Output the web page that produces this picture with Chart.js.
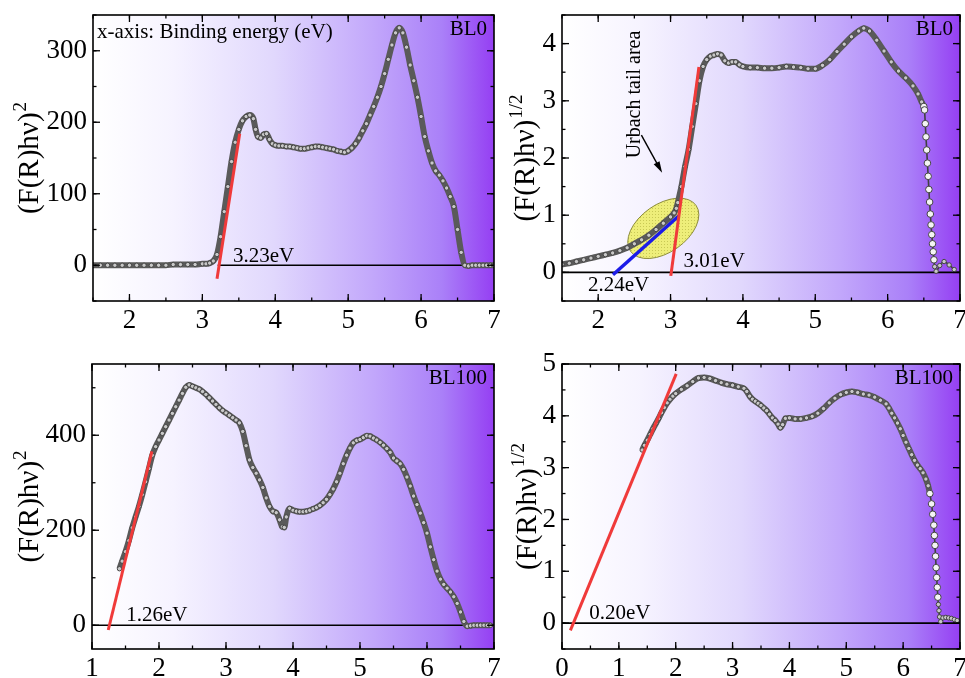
<!DOCTYPE html>
<html>
<head>
<meta charset="utf-8">
<title>Tauc plots BL0 / BL100</title>
<script src="https://cdn.jsdelivr.net/npm/chart.js@4.4.1/dist/chart.umd.min.js"></script>
<style>
  body { margin: 0; background: #fff; }
  #wrap { position: relative; width: 965px; height: 678px; overflow: hidden; }
  #wrap canvas { position: absolute; }
</style>
</head>
<body>
<div id="wrap">
  <canvas id="c1" width="530" height="340" style="left:0px;top:0px"></canvas>
  <canvas id="c2" width="485" height="340" style="left:480px;top:0px"></canvas>
  <canvas id="c3" width="530" height="338" style="left:0px;top:340px"></canvas>
  <canvas id="c4" width="485" height="338" style="left:480px;top:340px"></canvas>
</div>
<script>
// ---- data -------------------------------------------------------------

// BL0, (F(R)hv)^2 vs binding energy
var bl0SqE = [1.5,1.6,1.7,1.8,1.9,2.0,2.1,2.2,2.3,2.4,
  2.5,2.6,2.7,2.8,2.9,3.0,
  3.05,3.1,3.15,3.2,3.25,3.3,3.35,3.4,3.45,3.5,3.55,3.6,3.65,3.7,
  3.73,3.76,3.8,3.84,3.88,3.92,3.96,
  4.0,4.05,4.1,4.15,4.2,4.25,4.3,4.35,4.4,4.45,
  4.5,4.55,4.6,4.65,4.7,4.75,4.8,4.85,4.9,4.95,
  5.0,5.05,5.1,5.15,5.2,5.25,5.3,5.35,5.4,5.45,
  5.5,5.55,5.6,5.65,5.7,5.75,5.8,5.85,5.9,5.95,
  6.0,6.05,6.1,6.15,6.2,6.25,6.3,6.35,6.4,6.45,
  6.5,6.55,6.6,6.65,6.7,6.75,6.8,6.85,6.9,6.95,7.0];
var bl0SqY = [0,0,0,0,0,0,0,0,0,0,
  0,1,1,1,1,2,
  2,3,6,15,40,75,110,145,172,190,202,208,210,205,
  190,180,178,183,184,176,170,
  168,167,167,166,166,165,164,163,163,164,
  165,166,166,165,164,163,162,160,159,158,
  160,164,170,178,188,198,210,222,235,250,
  268,288,308,325,332,325,305,280,258,235,
  208,180,160,143,132,126,118,108,96,82,
  50,18,0,-1,0,0,0,0,0,0,0];

// BL0, (F(R)hv)^1/2
var bl0RtE = [1.5,1.6,1.7,1.8,1.9,2.0,2.1,2.2,2.3,2.4,
  2.5,2.6,2.7,2.8,2.9,3.0,
  3.05,3.08,3.1,
  3.15,3.2,3.25,3.3,3.35,3.4,3.45,3.5,3.55,3.6,3.65,3.7,3.75,3.8,3.85,3.9,3.95,4.0,
  4.1,4.2,4.3,4.4,4.5,4.6,4.7,4.8,4.9,5.0,5.1,5.2,5.3,5.4,5.5,5.6,
  5.67,5.75,5.85,5.95,6.05,6.15,6.25,6.35,6.42,6.47,6.5,
  6.51,6.52,6.53,6.54,6.55,6.56,6.57,6.58,6.59,6.6,6.61,6.62,6.63,6.64,6.65,
  6.67,6.72,6.78,6.85,6.92];
var bl0RtY = [0.14,0.16,0.19,0.22,0.25,0.28,0.31,0.34,0.38,0.43,
  0.5,0.57,0.65,0.75,0.86,0.97,
  1.04,1.12,1.22,
  1.5,1.85,2.15,2.55,2.95,3.35,3.6,3.72,3.78,3.8,3.82,3.8,3.7,3.66,3.68,3.68,3.63,3.6,
  3.58,3.58,3.57,3.57,3.58,3.6,3.59,3.58,3.56,3.56,3.62,3.72,3.86,3.99,4.12,4.22,
  4.27,4.22,4.06,3.87,3.68,3.52,3.4,3.26,3.12,2.98,2.9,
  2.84,2.6,2.37,2.14,1.91,1.68,1.45,1.23,1.02,0.83,0.66,0.5,0.36,0.22,0.1,
  0.02,0.12,0.19,0.13,0.05];

// BL100, (F(R)hv)^2
var bl100SqE = [1.41,1.45,1.5,1.55,1.6,1.65,1.7,1.75,1.8,1.85,
  1.9,1.95,2.0,2.05,2.1,2.15,2.2,2.25,2.3,2.35,
  2.4,2.45,2.5,2.55,2.6,2.65,2.7,2.75,2.8,2.85,
  2.9,2.95,3.0,3.05,3.1,3.15,3.2,3.25,3.3,3.35,
  3.4,3.45,3.5,3.55,3.6,3.65,3.7,3.75,3.8,3.84,3.87,
  3.9,3.95,4.0,4.05,4.1,4.15,4.2,4.25,4.3,4.35,
  4.4,4.45,4.5,4.55,4.6,4.65,4.7,4.75,4.8,4.85,
  4.9,4.95,5.0,5.05,5.1,5.15,5.2,5.25,5.3,5.35,
  5.4,5.45,5.5,5.55,5.6,5.65,5.7,5.75,5.8,5.85,
  5.9,5.95,6.0,6.05,6.1,6.15,6.2,6.25,6.3,6.35,
  6.4,6.45,6.5,6.55,6.6,6.65,6.7,6.75,6.8,6.85,6.9,6.95];
var bl100SqY = [119,135,155,178,205,228,250,275,302,330,
  358,376,390,404,418,432,446,460,474,488,
  501,506,503,500,497,492,486,479,472,465,
  458,452,447,442,437,432,426,408,378,348,
  332,320,306,290,268,250,240,237,222,207,206,
  228,246,242,240,239,239,240,242,245,248,
  252,258,265,275,287,302,320,340,358,373,
  384,389,391,395,399,398,394,390,385,379,
  372,364,352,346,340,328,312,293,272,254,
  236,216,194,165,138,114,97,86,78,70,
  60,46,28,8,-2,-1,0,0,0,0,0,0];

// BL100, (F(R)hv)^1/2
var bl100RtE = [1.41,1.45,1.5,1.55,1.6,1.65,1.7,1.75,1.8,1.85,
  1.9,1.95,2.0,2.1,2.2,2.3,2.4,2.5,2.6,2.7,
  2.8,2.9,3.0,3.1,3.2,3.25,3.3,3.35,3.4,3.45,
  3.5,3.55,3.6,3.65,3.7,3.75,3.8,3.84,3.88,3.93,
  4.0,4.1,4.2,4.3,4.4,4.5,4.6,4.7,4.8,4.9,
  5.0,5.1,5.2,5.3,5.4,5.5,5.6,5.7,5.75,5.8,
  5.85,5.9,5.95,6.0,6.05,6.1,6.15,6.2,6.25,6.3,
  6.35,6.4,6.44,6.47,6.5,6.52,6.54,6.55,6.56,6.57,
  6.58,6.59,6.6,6.61,6.62,6.63,6.64,6.66,6.7,6.75,
  6.8,6.85,6.9,6.95];
var bl100RtY = [3.34,3.43,3.53,3.64,3.75,3.85,3.95,4.06,4.16,4.25,
  4.32,4.38,4.43,4.51,4.58,4.66,4.73,4.74,4.72,4.68,
  4.64,4.61,4.59,4.56,4.53,4.47,4.38,4.32,4.28,4.24,
  4.2,4.15,4.1,4.03,3.96,3.91,3.84,3.77,3.83,3.95,
  3.96,3.94,3.94,3.96,3.99,4.05,4.14,4.25,4.34,4.41,
  4.45,4.47,4.45,4.42,4.4,4.36,4.3,4.23,4.15,4.05,
  3.96,3.86,3.75,3.62,3.49,3.37,3.25,3.14,3.05,2.98,
  2.9,2.78,2.65,2.5,2.3,2.1,1.89,1.69,1.5,1.29,
  1.07,0.88,0.69,0.5,0.36,0.24,0.12,0.03,0.1,0.11,
  0.1,0.09,0.07,0.05];

// linear fits: [x-intercept (eV), slope, y at start, y at end]
var bl0SqFit = [3.23, 653, -19, 184];
var bl0RtFit = [3.01, 9.39, -0.06, 3.59];
var bl0UrbachFit = [2.24, 1.13, -0.04, 0.99];
var bl100SqFit = [1.26, 577, -10, 366];
var bl100RtFit = [0.20, 2.66, -0.14, 4.81];

// tick labels
var xTicksTop = [2, 3, 4, 5, 6, 7];
var xTicks3 = [1, 2, 3, 4, 5, 6, 7];
var xTicks4 = [0, 1, 2, 3, 4, 5, 6, 7];
var yTicks1 = [0, 100, 200, 300];
var yTicks2 = [0, 1, 2, 3, 4];
var yTicks3 = [0, 200, 400];
var yTicks4 = [0, 1, 2, 3, 4, 5];

// ---- helpers ----------------------------------------------------------

var FONT = "'Liberation Serif', 'Times New Roman', serif";
Chart.defaults.font.family = FONT;
Chart.defaults.color = '#000';

function toPoints(es, ys) {
  var pts = [];
  for (var i = 0; i < es.length; i++) pts.push({x: es[i], y: ys[i]});
  return pts;
}

function fitPoints(fit) {
  return [
    {x: fit[0] + fit[2] / fit[1], y: fit[2]},
    {x: fit[0] + fit[3] / fit[1], y: fit[3]}
  ];
}

function gapLabel(fit) {
  return fit[0].toFixed(2) + 'eV';
}

function line(ctx, x1, y1, x2, y2) {
  ctx.beginPath();
  ctx.moveTo(x1, y1);
  ctx.lineTo(x2, y2);
  ctx.stroke();
}

// yellow dotted fill for the Urbach ellipse
function dotPattern(ctx) {
  var c = document.createElement('canvas');
  c.width = 3; c.height = 3;
  var p = c.getContext('2d');
  p.fillStyle = '#eeee7a';
  p.fillRect(0, 0, 3, 3);
  p.fillStyle = '#c9c955';
  p.fillRect(1, 1, 1, 1);
  return ctx.createPattern(c, 'repeat');
}

// background, frame, inward ticks, titles and annotations of one panel
function makeDeco(cfg) {
  return {
    id: 'deco',
    beforeDraw: function(chart) {
      var a = chart.chartArea, ctx = chart.ctx;
      var g = ctx.createLinearGradient(a.left, 0, a.right, 0);
      g.addColorStop(0, '#ffffff');
      g.addColorStop(0.2, '#f6f3ff');
      g.addColorStop(0.45, '#e1d8fd');
      g.addColorStop(0.7, '#c2a7fb');
      g.addColorStop(0.87, '#aa80f8');
      g.addColorStop(1, '#953ff3');
      ctx.save();
      ctx.fillStyle = g;
      ctx.fillRect(a.left, a.top, a.right - a.left, a.bottom - a.top);
      ctx.restore();
    },
    beforeDatasetsDraw: function(chart) {
      if (!cfg.ellipse) return;
      var ctx = chart.ctx, xs = chart.scales.x, ys = chart.scales.y;
      var el = cfg.ellipse;
      ctx.save();
      ctx.beginPath();
      ctx.ellipse(xs.getPixelForValue(el.x), ys.getPixelForValue(el.y), el.rx, el.ry,
        el.rot * Math.PI / 180, 0, Math.PI * 2);
      ctx.fillStyle = dotPattern(ctx);
      ctx.fill();
      ctx.strokeStyle = '#8d8d3a';
      ctx.lineWidth = 1;
      ctx.stroke();
      ctx.restore();
    },
    afterDatasetsDraw: function(chart) {
      var a = chart.chartArea, ctx = chart.ctx;
      var xs = chart.scales.x, ys = chart.scales.y;
      ctx.save();
      ctx.strokeStyle = '#000';
      ctx.lineWidth = 1.3;

      // minor then major ticks on all four sides, pointing inward
      var n, p;
      for (n = Math.ceil(xs.min / cfg.xMinor); n * cfg.xMinor <= xs.max + 1e-9; n++) {
        p = xs.getPixelForValue(n * cfg.xMinor);
        line(ctx, p, a.bottom, p, a.bottom - 3.5);
        line(ctx, p, a.top, p, a.top + 3.5);
      }
      for (n = Math.ceil(ys.min / cfg.yMinor); n * cfg.yMinor <= ys.max + 1e-9; n++) {
        p = ys.getPixelForValue(n * cfg.yMinor);
        line(ctx, a.left, p, a.left + 3.5, p);
        line(ctx, a.right, p, a.right - 3.5, p);
      }
      cfg.xTicks.forEach(function(t) {
        p = xs.getPixelForValue(t);
        line(ctx, p, a.bottom, p, a.bottom - 7);
        line(ctx, p, a.top, p, a.top + 7);
      });
      cfg.yTicks.forEach(function(t) {
        p = ys.getPixelForValue(t);
        line(ctx, a.left, p, a.left + 7, p);
        line(ctx, a.right, p, a.right - 7, p);
      });
      ctx.lineWidth = 1.6;
      ctx.strokeRect(a.left, a.top, a.right - a.left, a.bottom - a.top);

      // y axis title, rotated, with superscript exponent
      ctx.fillStyle = '#000';
      ctx.textAlign = 'left';
      ctx.textBaseline = 'alphabetic';
      var main = '(F(R)h\u03bd)';
      ctx.font = '29px ' + FONT;
      var w1 = ctx.measureText(main).width;
      ctx.font = '19px ' + FONT;
      var w2 = ctx.measureText(cfg.power).width;
      var total = w1 + 1 + w2;
      ctx.save();
      ctx.translate(cfg.titleX, (a.top + a.bottom) / 2 + total / 2);
      ctx.rotate(-Math.PI / 2);
      ctx.font = '29px ' + FONT;
      ctx.fillText(main, 0, 0);
      ctx.font = '19px ' + FONT;
      ctx.fillText(cfg.power, w1 + 1, -12);
      ctx.restore();

      // sample name in the top right corner
      ctx.font = '21px ' + FONT;
      ctx.textAlign = 'right';
      ctx.fillText(cfg.name, a.right - 7, a.top + 20);

      // text labels placed in data coordinates
      ctx.textAlign = 'left';
      (cfg.texts || []).forEach(function(t) {
        ctx.font = (t.size || 21) + 'px ' + FONT;
        var tx = xs.getPixelForValue(t.x), ty = ys.getPixelForValue(t.y);
        if (t.rotate) {
          ctx.save();
          ctx.translate(tx, ty);
          ctx.rotate(-Math.PI / 2);
          ctx.textAlign = 'center';
          ctx.fillText(t.text, 0, 0);
          ctx.restore();
        } else {
          ctx.fillText(t.text, tx, ty);
        }
      });

      if (cfg.note) {
        ctx.font = '21px ' + FONT;
        ctx.fillText(cfg.note, a.left + 4, a.top + 23);
      }

      if (cfg.arrow) {
        var x1 = xs.getPixelForValue(cfg.arrow[0]), y1 = ys.getPixelForValue(cfg.arrow[1]);
        var x2 = xs.getPixelForValue(cfg.arrow[2]), y2 = ys.getPixelForValue(cfg.arrow[3]);
        var ang = Math.atan2(y2 - y1, x2 - x1);
        ctx.lineWidth = 1.4;
        line(ctx, x1, y1, x2 - 6 * Math.cos(ang), y2 - 6 * Math.sin(ang));
        ctx.beginPath();
        ctx.moveTo(x2, y2);
        ctx.lineTo(x2 - 12 * Math.cos(ang - 0.28), y2 - 12 * Math.sin(ang - 0.28));
        ctx.lineTo(x2 - 12 * Math.cos(ang + 0.28), y2 - 12 * Math.sin(ang + 0.28));
        ctx.closePath();
        ctx.fill();
      }
      ctx.restore();
    }
  };
}

function makePanel(id, cfg) {
  var bead = cfg.beadFrom || 99;
  var datasets = [];
  cfg.fits.forEach(function(f) {
    datasets.push({
      data: fitPoints(f.fit), showLine: true, borderColor: f.color,
      borderWidth: f.width, pointRadius: 0, order: 0
    });
  });
  // measured curve: thick grey band of open markers, thin beaded
  // stem where the points spread out on the steep high-energy edge
  datasets.push({
    data: toPoints(cfg.e, cfg.y), showLine: true,
    borderColor: '#5a5a5a', borderWidth: 6, cubicInterpolationMode: 'monotone',
    segment: {
      borderWidth: function(c) { return c.p0.parsed.x >= bead ? 1.6 : 6; },
      borderColor: function(c) { return c.p0.parsed.x >= bead ? '#404040' : '#5a5a5a'; }
    },
    pointRadius: function(c) { return c.raw && c.raw.x >= bead && c.raw.x < bead + 0.15 ? 3.3 : 2.2; },
    pointBorderWidth: 1,
    pointBorderColor: '#454545',
    pointBackgroundColor: function(c) { return c.raw && c.raw.x >= bead && c.raw.x < bead + 0.15 ? '#f4f4f4' : '#c8c8c8'; },
    order: 1
  });
  datasets.push({
    data: [{x: cfg.zeroFrom, y: 0}, {x: cfg.xMax, y: 0}], showLine: true,
    borderColor: '#000', borderWidth: 1.6, pointRadius: 0, order: 2
  });

  var xTicks = cfg.xTicks, yTicks = cfg.yTicks;
  return new Chart(document.getElementById(id), {
    type: 'scatter',
    data: {datasets: datasets},
    options: {
      responsive: false,
      animation: false,
      events: [],
      layout: {padding: {top: cfg.padTop, right: cfg.padRight, left: 0, bottom: 0}},
      plugins: {legend: {display: false}, tooltip: {enabled: false}},
      scales: {
        x: {
          type: 'linear', min: cfg.xMin, max: cfg.xMax,
          grid: {display: false, drawTicks: false},
          border: {display: false},
          ticks: {font: {size: 27}, padding: 4, autoSkip: false, maxRotation: 0,
            callback: function(v) { return String(v); }},
          afterBuildTicks: function(s) { s.ticks = xTicks.map(function(v) { return {value: v}; }); },
          afterFit: function(s) { s.height = cfg.xHeight; s.paddingLeft = 0; s.paddingRight = 0; }
        },
        y: {
          type: 'linear', min: cfg.yMin, max: cfg.yMax,
          grid: {display: false, drawTicks: false},
          border: {display: false},
          ticks: {font: {size: 27}, padding: 6, autoSkip: false,
            callback: function(v) { return String(v); }},
          afterBuildTicks: function(s) { s.ticks = yTicks.map(function(v) { return {value: v}; }); },
          afterFit: function(s) { s.width = cfg.yWidth; s.paddingTop = 0; s.paddingBottom = 0; }
        }
      }
    },
    plugins: [makeDeco(cfg)]
  });
}

// ---- panels -----------------------------------------------------------

makePanel('c1', {
  e: bl0SqE, y: bl0SqY, name: 'BL0', power: '2', titleX: 38,
  xMin: 1.5, xMax: 7, yMin: -50, yMax: 350, xMinor: 0.5, yMinor: 50,
  xTicks: xTicksTop, yTicks: yTicks1,
  yWidth: 93, xHeight: 39, padTop: 15, padRight: 36,
  zeroFrom: 3.21,
  fits: [{fit: bl0SqFit, color: '#f03a3a', width: 3}],
  note: 'x-axis: Binding energy (eV)',
  texts: [{text: gapLabel(bl0SqFit), x: 3.42, y: 5}]
});

makePanel('c2', {
  e: bl0RtE, y: bl0RtY, name: 'BL0', power: '1/2', titleX: 54,
  xMin: 1.5, xMax: 7, yMin: -0.5, yMax: 4.5, xMinor: 0.5, yMinor: 0.5,
  xTicks: xTicksTop, yTicks: yTicks2,
  yWidth: 82, xHeight: 39, padTop: 15, padRight: 1,
  zeroFrom: 1.5, beadFrom: 6.5,
  fits: [{fit: bl0RtFit, color: '#f03a3a', width: 3},
         {fit: bl0UrbachFit, color: '#1c1ce8', width: 3.5}],
  ellipse: {x: 2.9, y: 0.77, rx: 40, ry: 24, rot: -35},
  arrow: [2.597, 2.40, 2.884, 1.74],
  texts: [
    {text: gapLabel(bl0RtFit), x: 3.18, y: 0.1},
    {text: gapLabel(bl0UrbachFit), x: 1.86, y: -0.32},
    {text: 'Urbach tail area', x: 2.583, y: 3.11, size: 20, rotate: true}
  ]
});

makePanel('c3', {
  e: bl100SqE, y: bl100SqY, name: 'BL100', power: '2', titleX: 38,
  xMin: 1, xMax: 7, yMin: -50, yMax: 550, xMinor: 0.5, yMinor: 100,
  xTicks: xTicks3, yTicks: yTicks3,
  yWidth: 92, xHeight: 29, padTop: 24, padRight: 36,
  zeroFrom: 1,
  fits: [{fit: bl100SqFit, color: '#f03a3a', width: 3}],
  texts: [{text: gapLabel(bl100SqFit), x: 1.51, y: 8}]
});

makePanel('c4', {
  e: bl100RtE, y: bl100RtY, name: 'BL100', power: '1/2', titleX: 56,
  xMin: 0, xMax: 7, yMin: -0.5, yMax: 5, xMinor: 0.5, yMinor: 0.5,
  xTicks: xTicks4, yTicks: yTicks4,
  yWidth: 82, xHeight: 29, padTop: 24, padRight: 2,
  zeroFrom: 0, beadFrom: 6.47,
  fits: [{fit: bl100RtFit, color: '#f03a3a', width: 3}],
  texts: [{text: gapLabel(bl100RtFit), x: 0.48, y: 0.08}]
});
</script>
</body>
</html>
